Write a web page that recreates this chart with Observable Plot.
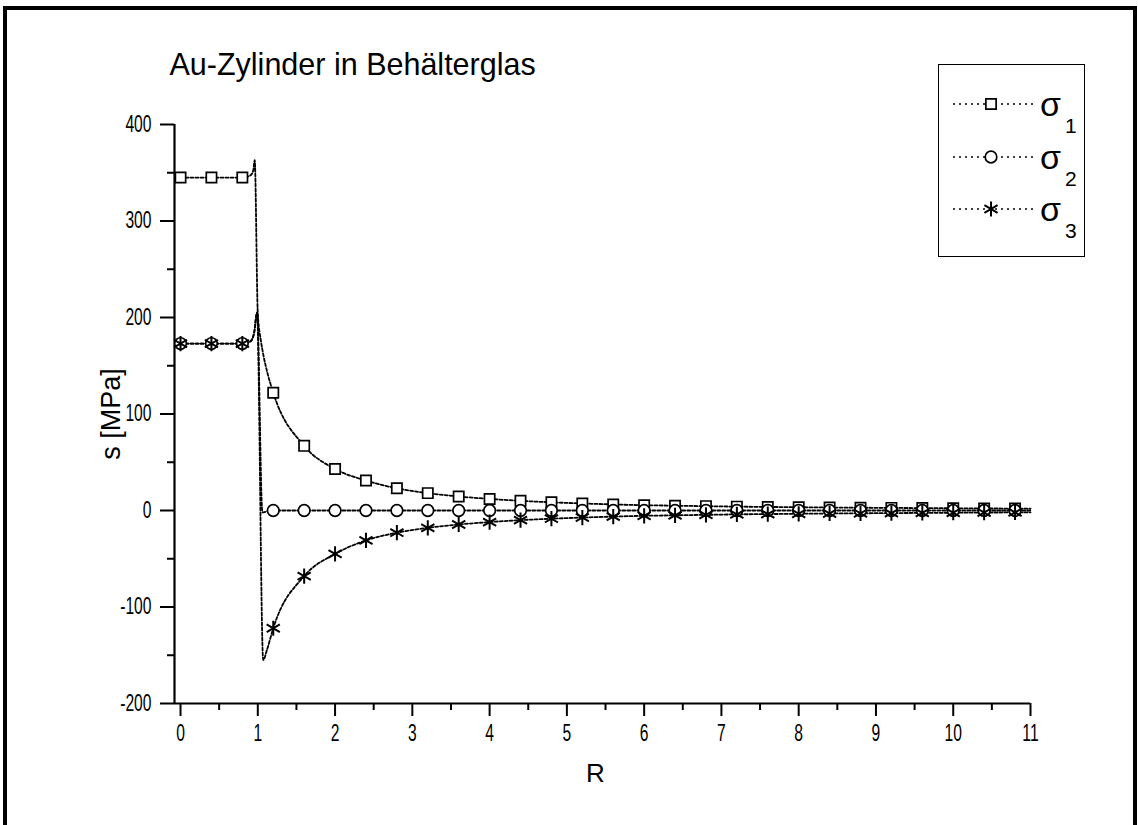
<!DOCTYPE html>
<html><head><meta charset="utf-8">
<script src="https://cdn.jsdelivr.net/npm/d3@7"></script>
<script src="https://cdn.jsdelivr.net/npm/@observablehq/plot@0.6"></script>
<style>
body{margin:0;background:#fff;font-family:"Liberation Sans",Arial,sans-serif;}
#wrap{position:relative;width:1138px;height:825px;overflow:hidden;}
#chart{position:absolute;left:0;top:0;}
#border{position:absolute;left:3px;top:6px;width:1126px;height:840px;border:4px solid #000;border-bottom:none;pointer-events:none;}
#legend{position:absolute;left:938px;top:64px;width:145px;height:191px;border:1.5px solid #000;background:#fff;}
</style></head><body>
<div id="wrap"><div id="chart"></div><div id="border"></div><div id="legend"></div></div>
<script>
// ---- data ----
const markerR = [0,0.4,0.8,1.2,1.6,2.0,2.4,2.8,3.2,3.6,4.0,4.4,4.8,5.2,5.6,6.0,6.4,6.8,7.2,7.6,8.0,8.4,8.8,9.2,9.6,10.0,10.4,10.8];
const sigma1 = [345,345,345,122,67,43,31,23,18,14.5,12,10,8.5,7.3,6.3,5.5,5,4.5,4,3.7,3.4,3.1,2.9,2.7,2.5,2.3,2.1,2];
const sigma2 = [173,173,173,0,0,0,0,0,0,0,0,0,0,0,0,0,0,0,0,0,0,0,0,0,0,0,0,0];
const sigma3 = [173,173,173,-122,-68,-45,-31,-23,-18,-14.5,-12,-10,-8.5,-7.3,-6.3,-5.5,-5,-4.5,-4,-3.7,-3.4,-3.1,-2.9,-2.7,-2.5,-2.3,-2.1,-2];

// dense curve samples (dotted lines) including the overshoot near R = 1
const curveR1 = [0,0.4,0.8,0.9,0.94,0.96,1.0,1.04,1.07,1.13,1.2,1.6,2.0,2.4,2.8,3.2,3.6,4.0,4.4,4.8,5.2,5.6,6.0,6.4,6.8,7.2,7.6,8.0,8.4,8.8,9.2,9.6,10.0,10.4,10.8,11.0];
const curveS1 = [345,345,345,347,352,363,204,176,162,141,122,67,43,31,23,18,14.5,12,10,8.5,7.3,6.3,5.5,5,4.5,4,3.7,3.4,3.1,2.9,2.7,2.5,2.3,2.1,2,1.9];
const curveR2 = [0,0.4,0.8,0.9,0.95,0.99,1.06,1.12,1.2,1.6,2.0,2.4,2.8,3.2,3.6,4.0,4.4,4.8,5.2,5.6,6.0,6.4,6.8,7.2,7.6,8.0,8.4,8.8,9.2,9.6,10.0,10.4,10.8,11.0];
const curveS2 = [173,173,173,175,183,205,-2,-1,0,0,0,0,0,0,0,0,0,0,0,0,0,0,0,0,0,0,0,0,0,0,0,0,0,0];
const curveR3 = [0,0.4,0.8,0.9,0.95,0.99,1.07,1.12,1.2,1.6,2.0,2.4,2.8,3.2,3.6,4.0,4.4,4.8,5.2,5.6,6.0,6.4,6.8,7.2,7.6,8.0,8.4,8.8,9.2,9.6,10.0,10.4,10.8,11.0];
const curveS3 = [173,173,173,175,183,205,-155,-144,-122,-68,-45,-31,-23,-18,-14.5,-12,-10,-8.5,-7.3,-6.3,-5.5,-5,-4.5,-4,-3.7,-3.4,-3.1,-2.9,-2.7,-2.5,-2.3,-2.1,-2,-1.9];

const xMajor = [0,1,2,3,4,5,6,7,8,9,10,11];
const xMinor = [0.5,1.5,2.5,3.5,4.5,5.5,6.5,7.5,8.5,9.5,10.5];
const yMajor = [-200,-100,0,100,200,300,400];
const yMinor = [-150,-50,50,150,250,350];
const xDomain = [-0.078, 11];
const yDomain = [-200, 400];

const titleText = "Au-Zylinder in Behälterglas";
const yLabel = "s [MPa]";
const xLabel = "R";
const seriesNames = ["σ", "σ", "σ"];
const seriesSubs = ["1", "2", "3"];
const seriesSymbols = ["square", "circle", "asterisk"];

// ---- build tables ----
const pts = (xs, ys) => xs.map((r, i) => ({r, s: ys[i]}));
const m1 = pts(markerR, sigma1), m2 = pts(markerR, sigma2), m3 = pts(markerR, sigma3);
const c1 = pts(curveR1, curveS1), c2 = pts(curveR2, curveS2), c3 = pts(curveR3, curveS3);

const lineOpts = {x: "r", y: "s", curve: "monotone-x", stroke: "#000", strokeWidth: 1.8, strokeDasharray: "3,2"};
const font = "'Liberation Sans', Arial, sans-serif";

const chart = Plot.plot({
  width: 1138, height: 825,
  marginLeft: 174, marginRight: 108, marginTop: 124, marginBottom: 122,
  style: {fontFamily: font, fontSize: "23px", background: "transparent", color: "#000"},
  x: {domain: xDomain},
  y: {domain: yDomain},
  marks: [
    Plot.axisX({ticks: xMinor, tickSize: 7, strokeWidth: 2, tickFormat: () => "", label: null}),
    Plot.axisX({ticks: xMajor, tickSize: 13, tickPadding: 8, strokeWidth: 2, fontSize: 23, tickFormat: d => String(d), label: null}),
    Plot.axisY({ticks: yMinor, tickSize: 7, strokeWidth: 2, tickFormat: () => "", label: null}),
    Plot.axisY({ticks: yMajor, tickSize: 14, tickPadding: 9, strokeWidth: 2, fontSize: 23, tickFormat: d => String(d), label: null}),
    Plot.ruleX([xDomain[0]], {y1: yDomain[0], y2: yDomain[1], strokeWidth: 2.2}),
    Plot.ruleY([yDomain[0]], {x1: xDomain[0], x2: xDomain[1], strokeWidth: 2.2}),
    Plot.line(c1, lineOpts),
    Plot.line(c2, lineOpts),
    Plot.line(c3, lineOpts),
    Plot.dot(m1, {x: "r", y: "s", symbol: "square", r: 5.8, stroke: "#000", fill: "#fff", strokeWidth: 1.7}),
    Plot.dot(m2, {x: "r", y: "s", symbol: "circle", r: 5.8, stroke: "#000", fill: "#fff", strokeWidth: 1.7}),
    Plot.dot(m3, {x: "r", y: "s", symbol: "asterisk", r: 7.2, stroke: "#000", strokeWidth: 2}),
    Plot.text([titleText], {frameAnchor: "top-left", dx: -5, dy: -71, textAnchor: "start", fontSize: 30.5}),
    Plot.text([yLabel], {frameAnchor: "left", textAnchor: "middle", rotate: -90, dx: -63, fontSize: 27}),
    Plot.text([xLabel], {frameAnchor: "bottom", textAnchor: "middle", lineAnchor: "middle", dy: 70, dx: -7, fontSize: 26})
  ]
});
document.getElementById("chart").appendChild(chart);

// condense tick labels horizontally (the reference uses a narrow face)
chart.querySelectorAll('g[aria-label$="tick label"] text').forEach(t => {
  const w = t.getComputedTextLength();
  if (w > 0) {
    t.setAttribute("textLength", (w * 0.68).toFixed(2));
    t.setAttribute("lengthAdjust", "spacingAndGlyphs");
  }
});

// ---- legend ----
const symMap = {square: d3.symbolSquare, circle: d3.symbolCircle, asterisk: d3.symbolAsterisk};
const symR = {square: 5.8, circle: 5.8, asterisk: 7.2};
const rowY = [39, 92, 144];
let svg = `<svg width="145" height="191" xmlns="http://www.w3.org/2000/svg" style="font-family:${font}">`;
seriesNames.forEach((name, i) => {
  const y = rowY[i];
  const sym = seriesSymbols[i];
  const path = d3.symbol(symMap[sym], Math.PI * symR[sym] ** 2)();
  svg += `<line x1="14" x2="98" y1="${y}" y2="${y}" stroke="#000" stroke-width="1.6" stroke-dasharray="2,4"/>`;
  svg += `<path d="${path}" transform="translate(52,${y})" stroke="#000" stroke-width="${sym === 'asterisk' ? 2 : 1.7}" fill="${sym === 'asterisk' ? 'none' : '#fff'}"/>`;
  svg += `<text x="101" y="${y + 12}" font-size="34">${name}</text>`;
  svg += `<text x="126" y="${y + 29}" font-size="21">${seriesSubs[i]}</text>`;
});
svg += `</svg>`;
document.getElementById("legend").innerHTML = svg;
</script>
</body></html>
